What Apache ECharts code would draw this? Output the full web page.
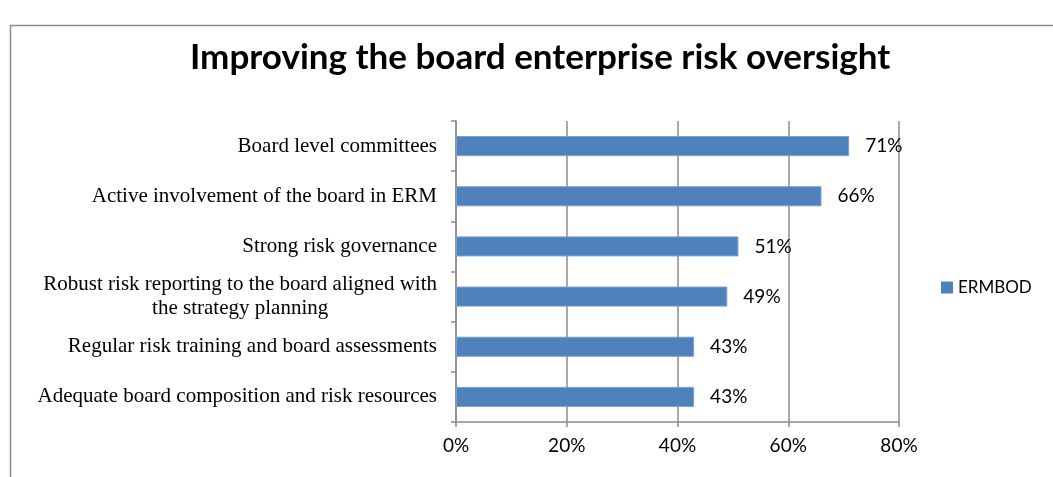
<!DOCTYPE html>
<html>
<head>
<meta charset="utf-8">
<script src="https://cdn.jsdelivr.net/npm/echarts@6/dist/echarts.min.js"></script>
<style>
  html, body { margin: 0; padding: 0; background: #fff; }
  #chart { width: 1053px; height: 477px; }
</style>
</head>
<body>
<div id="chart"></div>
<script>
// Survey shares, listed from top to bottom of the chart
const categories = [
  'Board level committees',
  'Active involvement of the board in ERM',
  'Strong risk governance',
  'Robust risk reporting to the board aligned with\nthe strategy planning',
  'Regular risk training and board assessments',
  'Adequate board composition and risk resources'
];
const values = [71, 66, 51, 49, 43, 43];
const xTicks = [0, 20, 40, 60, 80];
const seriesName = 'ERMBOD';
const titleText = 'Improving the board enterprise risk oversight';

const chart = echarts.init(document.getElementById('chart'), null, { renderer: 'canvas' });

const sansFont = 'Lato, "Open Sans", sans-serif';
const serifFont = '"Liberation Serif", "DejaVu Serif", serif';
const catFontSize = 21;

// Multi-line labels are centred on themselves but keep their right edge at the axis margin
const measureCtx = document.createElement('canvas').getContext('2d');
measureCtx.font = catFontSize + 'px ' + serifFont;
const yData = categories.map(function (c) {
  if (c.indexOf('\n') < 0) return c;
  const w = Math.max.apply(null, c.split('\n').map(function (l) { return measureCtx.measureText(l).width; }));
  return { value: c, textStyle: { align: 'center', padding: [0, w, 0, 0] } };
});

chart.setOption({
  animation: false,
  backgroundColor: '#fff',
  title: {
    text: titleText,
    left: 185,
    top: 35,
    textStyle: { fontFamily: sansFont, fontWeight: 'bold', fontSize: 35, color: '#000' }
  },
  legend: {
    data: [seriesName],
    left: 936,
    top: 274,
    icon: 'rect',
    itemWidth: 12,
    itemHeight: 12,
    itemGap: 6,
    itemStyle: { borderWidth: 0 },
    textStyle: { fontFamily: sansFont, fontSize: 17, color: '#000' }
  },
  grid: { left: 456, right: 154, top: 121, bottom: 55, containLabel: false },
  xAxis: {
    type: 'value',
    min: xTicks[0],
    max: xTicks[xTicks.length - 1],
    interval: xTicks[1] - xTicks[0],
    axisLine: { show: true, lineStyle: { color: '#8c8c8c', width: 1.5 } },
    axisTick: { show: true, length: 5, lineStyle: { color: '#8c8c8c', width: 1.5 } },
    splitLine: { show: true, lineStyle: { color: '#8c8c8c', width: 1.5 } },
    axisLabel: {
      formatter: '{value}%',
      margin: 14,
      fontFamily: sansFont,
      fontSize: 19,
      color: '#000'
    }
  },
  yAxis: {
    type: 'category',
    inverse: true,
    data: yData,
    axisLine: { show: true, lineStyle: { color: '#8c8c8c', width: 1.5 } },
    axisTick: { show: true, length: 5, lineStyle: { color: '#8c8c8c', width: 1.5 } },
    splitLine: { show: false },
    axisLabel: {
      margin: 19,
      fontFamily: serifFont,
      fontSize: catFontSize,
      lineHeight: 24,
      color: '#000',
      interval: 0
    }
  },
  series: [{
    name: seriesName,
    type: 'bar',
    data: values,
    barCategoryGap: '60%',
    itemStyle: { color: '#4f81bd', borderColor: '#7aa0cf', borderWidth: 1 },
    label: {
      show: true,
      position: 'right',
      distance: 16,
      formatter: '{c}%',
      fontFamily: sansFont,
      fontSize: 19,
      color: '#000'
    }
  }],
  graphic: [{
    type: 'rect',
    shape: { x: 10.5, y: 25.5, width: 1100, height: 500 },
    style: { fill: 'none', stroke: '#8c8c8c', lineWidth: 1.5 },
    silent: true,
    z: -10
  }]
});
</script>
</body>
</html>
